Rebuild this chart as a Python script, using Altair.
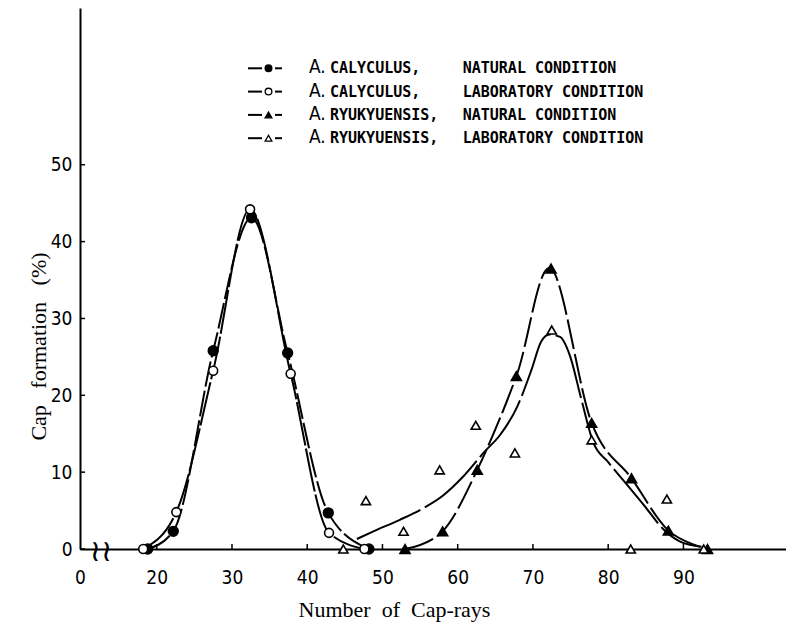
import altair as alt
import pandas as pd

# ---------------- data ----------------
cal_nat_x = [18.8, 22.2, 27.5, 32.6, 37.4, 42.8, 48.2]
cal_nat_y = [0.0, 2.3, 25.8, 43.1, 25.5, 4.7, 0.0]

cal_lab_x = [18.2, 22.6, 27.5, 32.4, 37.8, 42.9, 47.6]
cal_lab_y = [0.0, 4.8, 23.2, 44.2, 22.8, 2.1, 0.0]

ryu_nat_x = [53.0, 58.0, 62.6, 67.8, 72.4, 77.8, 83.1, 88.0, 93.2]
ryu_nat_y = [0.0, 2.3, 10.3, 22.5, 36.5, 16.4, 9.2, 2.4, 0.0]

ryu_lab_x = [44.8, 47.8, 52.8, 57.6, 62.4, 67.6, 72.5, 77.8, 83.0, 87.8, 92.7]
ryu_lab_y = [0.0, 6.3, 2.3, 10.3, 16.1, 12.5, 28.5, 14.2, 0.0, 6.5, 0.0]

# hand-drawn smoothing curve for the laboratory A. ryukyuensis series
ryu_lab_curve_x = [46.6, 48.8, 52.3, 55.4, 58.1, 60.7, 63.6, 65.6, 67.9, 69.8, 71.1,
                   72.2, 73.6, 74.9, 76.4, 78.0, 80.0, 82.3, 85.0, 87.2, 89.5, 92.4]
ryu_lab_curve_y = [1.3, 2.3, 3.8, 5.3, 7.0, 9.4, 12.7, 14.8, 18.5, 23.3, 27.0,
                   27.9, 27.6, 25.2, 19.6, 13.9, 11.3, 8.6, 5.4, 2.7, 1.0, 0.3]

x_tick_values = [20, 30, 40, 50, 60, 70, 80, 90]
y_tick_values = [0, 10, 20, 30, 40, 50]
break_x = [12.6]

legend_species = ["CALYCULUS,", "CALYCULUS,", "RYUKYUENSIS,", "RYUKYUENSIS,"]
legend_condition = ["NATURAL CONDITION", "LABORATORY CONDITION",
                    "NATURAL CONDITION", "LABORATORY CONDITION"]
legend_shape = ["circle", "circle", "triangle-up", "triangle-up"]
legend_filled = [True, False, True, False]

NB = "\u00a0"
x_title = f"Number{NB}{NB}of{NB}{NB}Cap-rays"
y_title = f"Cap{NB}{NB}{NB}formation{NB}{NB}{NB}(%)"

# ---------------- layout ----------------
W, H = 706, 541
X0 = 9.8
PXU = 7.524
xs = alt.Scale(domain=[X0, X0 + W / PXU], nice=False, zero=False)
ys = alt.Scale(domain=[0, 70.4], nice=False, zero=False)

LABEL_FONT = "Liberation Sans Narrow, DejaVu Sans Condensed, sans-serif"
SERIF = "Liberation Serif, DejaVu Serif, serif"
MONO = "DejaVu Sans Mono, Liberation Mono, monospace"

x_axis = alt.Axis(
    values=[X0] + x_tick_values,
    labelExpr="datum.value < 15 ? '0' : datum.label",
    format="d", tickSize=0, ticks=False, grid=False, labelFlush=False,
    domainWidth=2, domainColor="black",
    labelFont=LABEL_FONT, labelFontSize=19, labelColor="black", labelPadding=19,
    title=x_title, titleFont=SERIF, titleFontSize=22,
    titleFontWeight="normal", titleColor="black",
    titleX=314, titleY=60, titleAlign="center", titleBaseline="middle",
)
y_axis = alt.Axis(
    values=y_tick_values, format="d", tickSize=0, ticks=False, grid=False,
    labelFlush=False, domainWidth=2, domainColor="black",
    labelFont=LABEL_FONT, labelFontSize=19, labelColor="black", labelPadding=8,
    title=y_title, titleFont=SERIF, titleFontSize=22,
    titleFontWeight="normal", titleColor="black", titleAngle=270,
    titleX=-42, titleY=338, titleAlign="center", titleBaseline="middle",
)


def X(field="x"):
    return alt.X(f"{field}:Q", scale=xs, axis=x_axis)


def Y(field="y"):
    return alt.Y(f"{field}:Q", scale=ys, axis=y_axis)


one = alt.Data(values=[{}])


def sdf(x, y):
    return pd.DataFrame({"x": x, "y": y})


def line(df, dash, interp="monotone", width=2):
    return alt.Chart(df).mark_line(
        color="black", strokeWidth=width, strokeDash=dash, interpolate=interp
    ).encode(x=X(), y=Y())


def pts(df, shape, filled, size):
    return alt.Chart(df).mark_point(
        shape=shape, filled=True, fill="black" if filled else "white",
        stroke="black", strokeWidth=1.6, size=size, opacity=1,
    ).encode(x=X(), y=Y())


# inward-pointing ticks
xticks = alt.Chart(pd.DataFrame({"x": x_tick_values})).mark_rule(
    color="black", strokeWidth=1.5
).encode(x=X(), y=alt.value(H), y2=alt.value(H - 5))

yticks = alt.Chart(pd.DataFrame({"y": y_tick_values})).mark_rule(
    color="black", strokeWidth=1.5
).encode(y=Y(), x=alt.value(0), x2=alt.value(5))

brk = alt.Chart(pd.DataFrame({"x": break_x, "y": [0]})).mark_text(
    text="≀≀", fontSize=30, font="DejaVu Sans", baseline="middle", align="center",
    color="black", dy=3
).encode(x=X(), y=Y())

layers = [
    xticks, yticks, brk,
    line(sdf(cal_nat_x, cal_nat_y), [26, 4]),
    line(sdf(cal_lab_x, cal_lab_y), [44, 3]),
    line(sdf(ryu_nat_x, ryu_nat_y), [30, 5], interp="cardinal"),
    line(sdf(ryu_lab_curve_x, ryu_lab_curve_y), [70, 5]),
    pts(sdf(cal_nat_x, cal_nat_y), "circle", True, 95),
    pts(sdf(cal_lab_x, cal_lab_y), "circle", False, 80),
    pts(sdf(ryu_nat_x, ryu_nat_y), "triangle-up", True, 100),
    pts(sdf(ryu_lab_x, ryu_lab_y), "triangle-up", False, 85),
]

# ---------------- custom legend ----------------
ROW0, ROWSTEP = 60.3, 23.3
for i in range(4):
    ry = ROW0 + i * ROWSTEP
    layers.append(alt.Chart(one).mark_rule(color="black", strokeWidth=2).encode(
        x=alt.value(168), x2=alt.value(182), y=alt.value(ry)))
    layers.append(alt.Chart(one).mark_rule(color="black", strokeWidth=2).encode(
        x=alt.value(195), x2=alt.value(202), y=alt.value(ry)))
    layers.append(alt.Chart(one).mark_point(
        shape=legend_shape[i], filled=True,
        fill="black" if legend_filled[i] else "white",
        stroke="black", strokeWidth=1.3, size=45, opacity=1,
    ).encode(x=alt.value(188.5), y=alt.value(ry)))
    layers.append(alt.Chart(one).mark_text(
        align="left", baseline="middle", font=LABEL_FONT, fontSize=19, color="black"
    ).encode(x=alt.value(229), y=alt.value(ry - 1), text=alt.value("A.")))
    layers.append(alt.Chart(one).mark_text(
        align="left", baseline="middle", font=MONO, fontSize=15, fontWeight="bold",
        color="black"
    ).encode(x=alt.value(250), y=alt.value(ry), text=alt.value(legend_species[i])))
    layers.append(alt.Chart(one).mark_text(
        align="left", baseline="middle", font=MONO, fontSize=15, fontWeight="bold",
        color="black"
    ).encode(x=alt.value(382.7), y=alt.value(ry), text=alt.value(legend_condition[i])))

chart = alt.layer(*layers).properties(
    width=W, height=H,
    background="white",
    autosize=alt.AutoSizeParams(type="none"),
    padding={"left": 72, "top": 0, "right": 0, "bottom": 80},
).configure_view(strokeWidth=0)

chart.save("out.html", embed_options={"renderer": "svg", "actions": False})
